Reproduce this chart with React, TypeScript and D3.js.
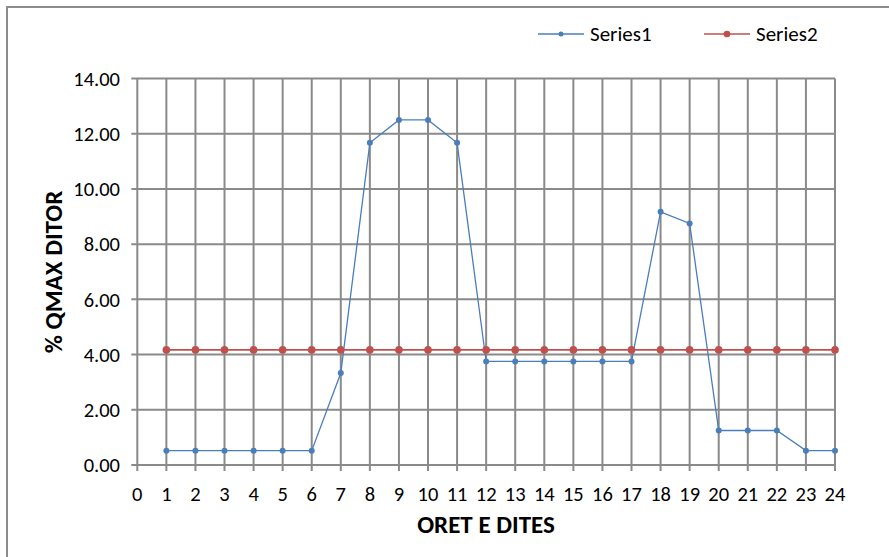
import React from "react";
import * as d3 from "d3";

const hours = d3.range(1, 25);
const series1 = [0.52, 0.52, 0.52, 0.52, 0.52, 0.52, 3.33, 11.67, 12.5, 12.5, 11.67, 3.75, 3.75, 3.75, 3.75, 3.75, 3.75, 9.17, 8.75, 1.25, 1.25, 1.25, 0.52, 0.52];
const series2 = [4.17, 4.17, 4.17, 4.17, 4.17, 4.17, 4.17, 4.17, 4.17, 4.17, 4.17, 4.17, 4.17, 4.17, 4.17, 4.17, 4.17, 4.17, 4.17, 4.17, 4.17, 4.17, 4.17, 4.17];
const xTicks = d3.range(0, 25);
const yTicks = [0, 2, 4, 6, 8, 10, 12, 14];
const seriesNames = ["Series1", "Series2"];
const colors = ["#4a7ebb", "#c0504d"];

const W = 889, H = 557;
const x = d3.scaleLinear().domain([0, 24]).range([137.3, 835]);
const y = d3.scaleLinear().domain([0, 14]).range([465, 78.5]);
const FONT = "Carlito, 'Open Sans', 'Liberation Sans', sans-serif";

export default function App() {
  const line = d3.line<number>().x((_, i) => x(hours[i])).y((d) => y(d));
  const grid = "#8a8a8a";
  return (
    <svg width={W} height={H} style={{ position: "fixed", left: 0, top: 0, background: "#fff" }} fontFamily={FONT}>
      <rect x={7} y={7} width={W + 10} height={H + 10} fill="#fff" stroke="#8c8c8c" strokeWidth={2} />
      {yTicks.map((t) => (
        <g key={"y" + t}>
          <line x1={x(0) - 6} x2={x(24)} y1={y(t)} y2={y(t)} stroke={grid} strokeWidth={2} />
          <text x={120} y={y(t)} dy="0.35em" textAnchor="end" fontSize={20.5} fill="#000">{t.toFixed(2)}</text>
        </g>
      ))}
      {xTicks.map((t) => (
        <g key={"x" + t}>
          <line x1={x(t)} x2={x(t)} y1={y(14)} y2={y(0) + 6} stroke={grid} strokeWidth={2} />
          <text x={x(t)} y={494} dy="0.35em" textAnchor="middle" fontSize={20.5} fill="#000">{t}</text>
        </g>
      ))}
      {[series1, series2].map((s, k) => (
        <g key={"s" + k}>
          <path d={line(s) || ""} fill="none" stroke={colors[k]} strokeWidth={k === 0 ? 1.3 : 1.8} />
          {s.map((v, i) => (
            <circle key={i} cx={x(hours[i])} cy={y(v)} r={k === 0 ? 3 : 3.8} fill={colors[k]} />
          ))}
        </g>
      ))}
      <text transform={`translate(53,272) rotate(-90)`} textAnchor="middle" dy="0.35em" fontSize={25} fontWeight="bold" fill="#000">% QMAX DITOR</text>
      <text x={486} y={524} dy="0.35em" textAnchor="middle" fontSize={25} fontWeight="bold" fill="#000">ORET E DITES</text>
      {seriesNames.map((n, k) => {
        const lx = k === 0 ? 538 : 704;
        return (
          <g key={n}>
            <line x1={lx} x2={lx + 46} y1={34} y2={34} stroke={colors[k]} strokeWidth={1.5} />
            <circle cx={lx + 23} cy={34} r={k === 0 ? 2.5 : 3.3} fill={colors[k]} />
            <text x={lx + 52} y={34} dy="0.35em" fontSize={21} fill="#000">{n}</text>
          </g>
        );
      })}
    </svg>
  );
}
